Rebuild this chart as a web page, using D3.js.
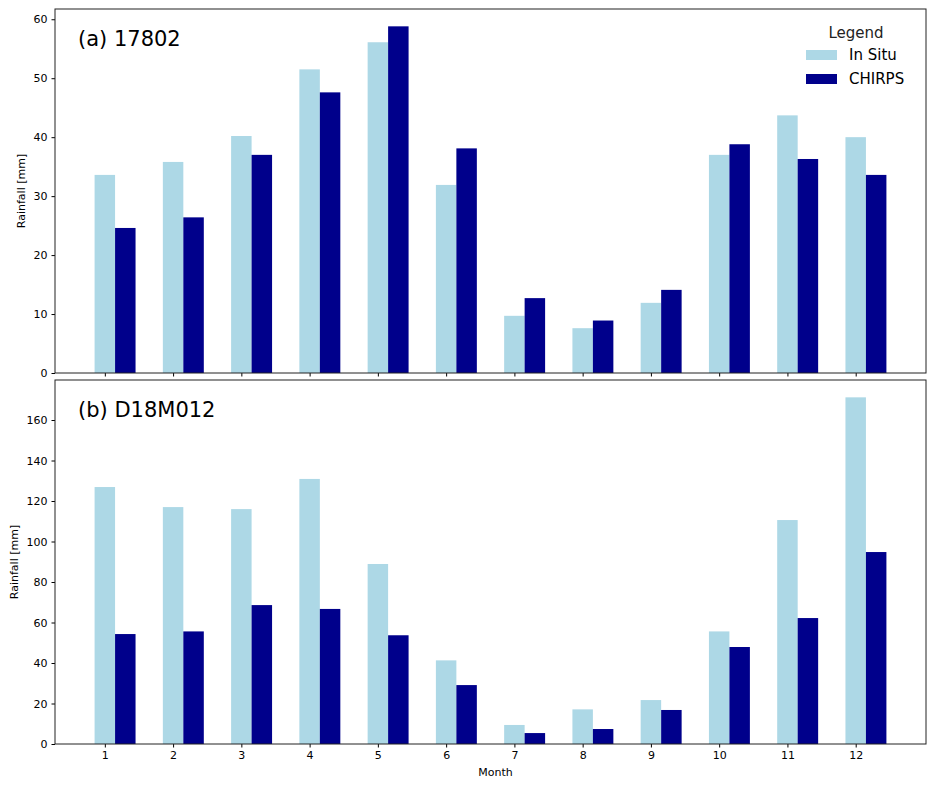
<!DOCTYPE html>
<html lang="en">
<head>
<meta charset="UTF-8">
<script src="https://d3js.org/d3.v7.min.js"></script>
<style>
  html, body { margin: 0; padding: 0; background: #fff; }
  svg text { font-family: 'DejaVu Sans', sans-serif; fill: #000; }
  .tick text { font-size: 11px; }
  .tick line, .domain { stroke: #000; }
</style>
</head>
<body>
<div id="chart"></div>
<script>
// monthly rainfall
var months = [1, 2, 3, 4, 5, 6, 7, 8, 9, 10, 11, 12];
var seriesNames = ['In Situ', 'CHIRPS'];
var seriesColors = ['#add8e6', '#00008b'];

var inSitu17802 = [33.6, 35.8, 40.2, 51.5, 56.1, 31.9, 9.7, 7.6, 11.9, 37.0, 43.7, 40.0];
var chirps17802 = [24.6, 26.4, 37.0, 47.6, 58.8, 38.1, 12.7, 8.9, 14.1, 38.8, 36.3, 33.6];

var inSituD18 = [126.9, 117.0, 116.0, 130.9, 88.9, 41.3, 9.4, 17.1, 21.7, 55.6, 110.6, 171.2];
var chirpsD18 = [54.3, 55.6, 68.6, 66.7, 53.7, 29.1, 5.4, 7.4, 16.8, 47.9, 62.2, 94.8];

var ticks17802 = [0, 10, 20, 30, 40, 50, 60];
var ticksD18 = [0, 20, 40, 60, 80, 100, 120, 140, 160];

var W = 937, H = 786;
var left = 55, right = 926;
var barW = 0.3;

var svg = d3.select('#chart').append('svg')
  .attr('width', W).attr('height', H);

// matplotlib style x limits: data extent plus 5% margin
var xMin = months[0] - barW / 2, xMax = months[months.length - 1] + barW * 1.5;
var xPad = (xMax - xMin) * 0.05;
var x = d3.scaleLinear().domain([xMin - xPad, xMax + xPad]).range([left, right]);

function panel(top, bottom, a, b, yTicks, title, yLabelX, showXLabels) {
  var yMax = d3.max(a.concat(b)) * 1.05;
  var y = d3.scaleLinear().domain([0, yMax]).range([bottom, top]);
  var g = svg.append('g');

  var series = [a, b];
  series.forEach(function(vals, s) {
    g.selectAll('.bar' + s)
      .data(vals)
      .enter().append('rect')
      .attr('x', function(d, i) { return x(months[i] + s * barW - barW / 2); })
      .attr('width', x(barW) - x(0))
      .attr('y', function(d) { return y(d); })
      .attr('height', function(d) { return bottom - y(d); })
      .style('fill', seriesColors[s]);
  });

  var xAxis = d3.axisBottom(x).tickValues(months).tickSize(3.5).tickPadding(4)
    .tickFormat(showXLabels ? d3.format('d') : '');
  g.append('g').attr('transform', 'translate(0,' + bottom + ')').call(xAxis)
    .call(function(ax) { ax.select('.domain').remove(); });

  var yAxis = d3.axisLeft(y).tickValues(yTicks).tickSize(3.5).tickPadding(4);
  g.append('g').attr('transform', 'translate(' + left + ',0)').call(yAxis)
    .call(function(ax) { ax.select('.domain').remove(); });

  // frame
  g.append('rect')
    .attr('x', left).attr('y', top)
    .attr('width', right - left).attr('height', bottom - top)
    .style('fill', 'none').style('stroke', '#222').style('stroke-width', 1);

  g.append('text')
    .attr('x', 78).attr('y', top + 37)
    .style('font-size', '21px')
    .text(title);

  g.append('text')
    .attr('transform', 'translate(' + yLabelX + ',' + ((top + bottom) / 2) + ') rotate(-90)')
    .attr('text-anchor', 'middle')
    .style('font-size', '11px')
    .text('Rainfall [mm]');
}

panel(9, 373, inSitu17802, chirps17802, ticks17802, '(a) 17802', 25, false);
panel(380, 744, inSituD18, chirpsD18, ticksD18, '(b) D18M012', 18, true);

svg.append('text')
  .attr('x', (left + right) / 2 + 5).attr('y', 776)
  .attr('text-anchor', 'middle')
  .style('font-size', '11px')
  .text('Month');

// legend
var legend = svg.append('g').attr('transform', 'translate(806,0)');
legend.append('text')
  .attr('x', 50).attr('y', 38)
  .attr('text-anchor', 'middle')
  .style('font-size', '15px').style('fill', '#222')
  .text('Legend');
var item = legend.selectAll('.item')
  .data(seriesNames)
  .enter().append('g')
  .attr('transform', function(d, i) { return 'translate(0,' + (50 + i * 24) + ')'; });
item.append('rect')
  .attr('width', 31).attr('height', 10)
  .style('fill', function(d, i) { return seriesColors[i]; });
item.append('text')
  .attr('x', 43).attr('y', 10)
  .style('font-size', '15px')
  .text(function(d) { return d; });
</script>
</body>
</html>
